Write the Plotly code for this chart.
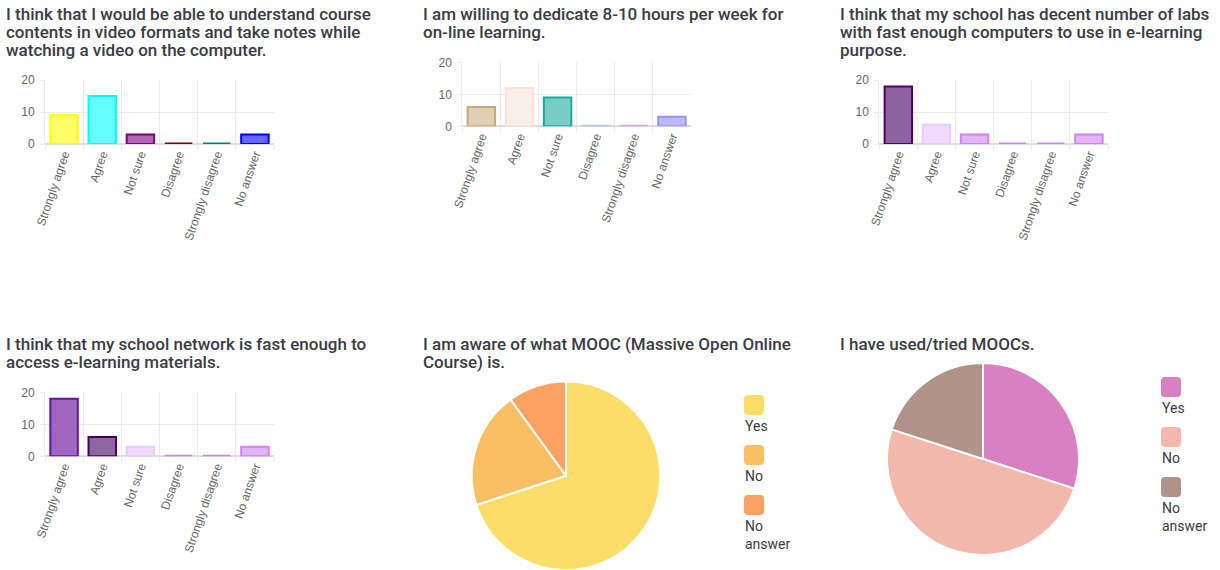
import plotly.graph_objects as go

W, H = 1220, 570

# ---- data ----
answers = ["Strongly agree", "Agree", "Not sure", "Disagree", "Strongly disagree", "No answer"]

video_notes = [9, 15, 3, 0, 0, 3]
hours_per_week = [6, 12, 9, 0, 0, 3]
school_labs = [18, 6, 3, 0, 0, 3]
school_network = [18, 6, 3, 0, 0, 3]

pie_labels = ["Yes", "No", "No answer"]
aware_mooc = [21, 6, 3]
used_mooc = [9, 15, 6]

title_video = ["I think that I would be able to understand course",
               "contents in video formats and take notes while",
               "watching a video on the computer."]
title_hours = ["I am willing to dedicate 8-10 hours per week for",
               "on-line learning."]
title_labs = ["I think that my school has decent number of labs",
              "with fast enough computers to use in e-learning",
              "purpose."]
title_network = ["I think that my school network is fast enough to",
                 "access e-learning materials."]
title_aware = ["I am aware of what MOOC (Massive Open Online",
               "Course) is."]
title_used = ["I have used/tried MOOCs."]

# ---- colours (fill, border) ----
video_fill = ["#ffff66", "#66ffff", "#b266b2", "#b26666", "#66b2b2", "#6666ff"]
video_line = ["#ffff00", "#00ffff", "#800080", "#800000", "#008080", "#0000ff"]
hours_fill = ["#e0ceb5", "#faeee8", "#78cdc8", "#c9d7ea", "#eac5ea", "#bdbaf8"]
hours_line = ["#c8a77f", "#fbe2d6", "#1ba89e", "#b0c4de", "#dda0dd", "#9a95f5"]
labs_fill = ["#8e64a0", "#f0d8ff", "#e2b5fb", "#e2b5fb", "#e2b5fb", "#e2b5fb"]
labs_line = ["#4b0066", "#e8cbfd", "#d082f5", "#d082f5", "#d082f5", "#d082f5"]
network_fill = ["#a066c0", "#8e66a0", "#f0d8ff", "#e2b5fb", "#e2b5fb", "#e2b5fb"]
network_line = ["#6a0dad", "#4b0060", "#e8cbfd", "#d082f5", "#d082f5", "#d082f5"]
aware_colors = ["#fbde6a", "#fbbf63", "#fba263"]
used_colors = ["#d880c2", "#f1b8ab", "#b19289"]


def fx(x):
    return x / W


def fy(y):
    return 1 - y / H


fig = go.Figure()

# bar panels: values, fills, borders, (left, right, top, bottom) in px
bar_panels = [
    (video_notes, video_fill, video_line, (45, 274, 80, 144)),
    (hours_per_week, hours_fill, hours_line, (462.3, 691, 62.3, 126.3)),
    (school_labs, labs_fill, labs_line, (879.3, 1108, 80, 144)),
    (school_network, network_fill, network_line, (45, 274, 392.3, 456.3)),
]

grid = "#ececec"
tick_font = dict(family="Liberation Sans, Arial", size=12, color="#666666")
for i, (vals, fills, lines, (l, r, t, b)) in enumerate(bar_panels, start=1):
    sfx = "" if i == 1 else str(i)
    # empty categories only show their border, a bit thicker like the original
    widths = [3 if v == 0 else 2 for v in vals]
    fig.add_trace(go.Bar(x=answers, y=vals, width=0.72,
                         marker=dict(color=fills, line=dict(color=lines, width=widths)),
                         xaxis="x" + sfx, yaxis="y" + sfx, showlegend=False))
    fig.layout["xaxis" + sfx] = dict(
        domain=[fx(l), fx(r)], anchor="y" + sfx, type="category",
        tickson="boundaries", ticks="outside", ticklen=5, tickcolor=grid,
        showgrid=True, gridcolor=grid, tickangle=-71, showline=False,
        tickfont=tick_font, automargin=False, fixedrange=True)
    fig.layout["yaxis" + sfx] = dict(
        domain=[fy(b), fy(t)], anchor="x" + sfx, range=[0, 20], dtick=10,
        ticks="outside", ticklen=4, tickcolor=grid, showgrid=True, gridcolor=grid,
        zeroline=True, zerolinecolor="#dddddd", showline=True, linecolor=grid,
        ticklabelstandoff=3, tickfont=tick_font, automargin=False, fixedrange=True)

# pie panels: (left, right, top, bottom) in px
pie_panels = [
    (aware_mooc, aware_colors, (469.5, 662.5, 381.5, 570)),
    (used_mooc, used_colors, (887, 1079, 363, 555)),
]
for vals, cols, (l, r, t, b) in pie_panels:
    fig.add_trace(go.Pie(labels=pie_labels, values=vals, sort=False,
                         direction="clockwise", rotation=0, textinfo="none",
                         marker=dict(colors=cols, line=dict(color="white", width=2)),
                         domain=dict(x=[fx(l), fx(r)], y=[fy(b), fy(t)]),
                         showlegend=False))

# titles: list of lines, left x, middle of first line
title_color = "#3b3b45"
titles = [
    (title_video, 4, 14),
    (title_hours, 421, 14),
    (title_labs, 838, 14),
    (title_network, 4, 344),
    (title_aware, 421, 344),
    (title_used, 838, 344),
]
annotations = []
for lines, x0, y0 in titles:
    for k, line in enumerate(lines):
        annotations.append(dict(
            text=line, x=fx(x0), y=fy(y0 + 18 * k), xref="paper", yref="paper",
            xanchor="left", yanchor="middle", showarrow=False,
            font=dict(family="Roboto", size=17, weight=500, color=title_color)))


# pie legends drawn as rounded swatches with the label underneath
def rounded_box(x0, y0, size, rad):
    x1, y1 = x0 + size, y0 + size
    pts = [
        f"M {fx(x0 + rad)},{fy(y0)}",
        f"L {fx(x1 - rad)},{fy(y0)}",
        f"Q {fx(x1)},{fy(y0)} {fx(x1)},{fy(y0 + rad)}",
        f"L {fx(x1)},{fy(y1 - rad)}",
        f"Q {fx(x1)},{fy(y1)} {fx(x1 - rad)},{fy(y1)}",
        f"L {fx(x0 + rad)},{fy(y1)}",
        f"Q {fx(x0)},{fy(y1)} {fx(x0)},{fy(y1 - rad)}",
        f"L {fx(x0)},{fy(y0 + rad)}",
        f"Q {fx(x0)},{fy(y0)} {fx(x0 + rad)},{fy(y0)}",
        "Z",
    ]
    return " ".join(pts)


shapes = []
legend_spots = [(aware_colors, 744, 395), (used_colors, 1161, 377)]
for cols, lx, ly in legend_spots:
    for k, (lab, col) in enumerate(zip(pie_labels, cols)):
        top = ly + 50 * k
        shapes.append(dict(type="path", xref="paper", yref="paper",
                           path=rounded_box(lx, top, 20, 4),
                           fillcolor=col, line=dict(width=0)))
        annotations.append(dict(
            text=lab.replace(" ", "<br>"), x=fx(lx - 1), y=fy(top + 21),
            xref="paper", yref="paper", xanchor="left", yanchor="top",
            align="left", showarrow=False,
            font=dict(family="Roboto", size=14, color="#3b3b45")))

fig.update_layout(width=W, height=H, margin=dict(l=0, r=0, t=0, b=0, autoexpand=False),
                  paper_bgcolor="white", plot_bgcolor="white",
                  showlegend=False, annotations=annotations, shapes=shapes,
                  font=dict(family="Roboto"))

fig.write_html("out.html", config={"displayModeBar": False},
               post_script="document.body.style.margin='0';")
